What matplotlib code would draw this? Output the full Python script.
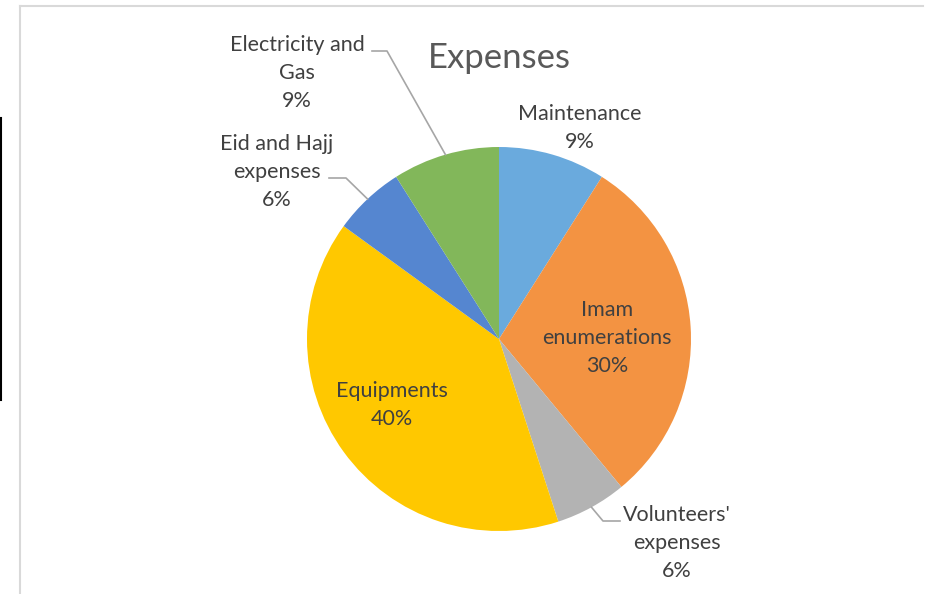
import numpy as np
import matplotlib.pyplot as plt
from matplotlib.lines import Line2D

# data
labels = ['Maintenance', 'Imam\nenumerations', "Volunteers'\nexpenses",
          'Equipments', 'Eid and Hajj\nexpenses', 'Electricity and\nGas']
values = [9, 30, 6, 40, 6, 9]
colors = ['#6aaadd', '#f39342', '#b3b3b3', '#ffc800', '#5586d0', '#82b75a']

W, H = 928, 594
cx, cy, r = 499, 339, 192

plt.rcParams['font.family'] = ['Lato', 'DejaVu Sans']

fig = plt.figure(figsize=(W / 100, H / 100), dpi=100)
ax = fig.add_axes([0, 0, 1, 1])

# pie in pixel coords (y measured from the bottom)
wedges, _ = ax.pie(values, colors=colors, startangle=90, counterclock=False,
                   center=(cx, H - cy), radius=r, frame=True,
                   wedgeprops=dict(linewidth=0))
ax.set_xlim(0, W)
ax.set_ylim(0, H)
ax.set_aspect('equal')
ax.axis('off')

# chart frame, light gray
fig.add_artist(Line2D([20 / W, 20 / W], [0, 1 - 6 / H], color='#d9d9d9', lw=1.5))
fig.add_artist(Line2D([20 / W, 923 / W], [1 - 6 / H, 1 - 6 / H], color='#d9d9d9', lw=1.5))
fig.add_artist(Line2D([1 / W, 1 / W], [1 - 118 / H, 1 - 400 / H], color='black', lw=1.5))

ax.text(cx, H - 58, 'Expenses', ha='center', va='center', fontsize=25, color='#595959')

# label centres and leader elbows (None = no leader)
label_pos = [(580, 128), (607, 338), (677, 543), (392, 405), (277, 172), (297, 73)]
elbows = [None, None, [(603, 521), (620, 521)], None,
          [(346, 178), (329, 178)], [(387, 51), (372, 51)]]

for w, v, lab, (lx, ly), el in zip(wedges, values, labels, label_pos, elbows):
    ax.text(lx, H - ly, f'{lab}\n{v}%', ha='center', va='center', fontsize=15.5,
            color='#404040', linespacing=1.5)
    if el is not None:
        mid = np.deg2rad((w.theta1 + w.theta2) / 2)
        px, py = cx + r * np.cos(mid), (H - cy) + r * np.sin(mid)
        xs = [px] + [p[0] for p in el]
        ys = [py] + [H - p[1] for p in el]
        ax.plot(xs, ys, color='#a6a6a6', lw=1.2)

fig.savefig('out.png', dpi=100)
